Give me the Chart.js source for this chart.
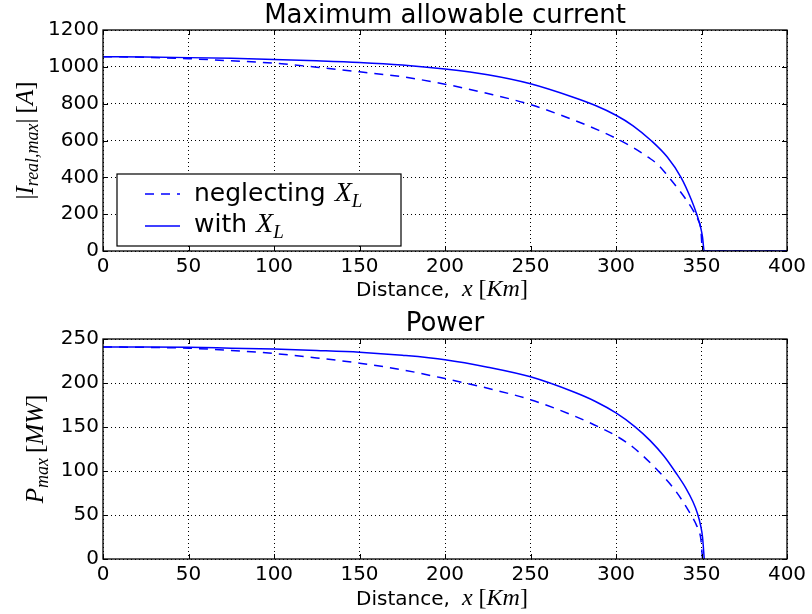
<!DOCTYPE html>
<html>
<head>
<meta charset="utf-8">
<script src="https://cdn.jsdelivr.net/npm/chart.js@4.4.1/dist/chart.umd.min.js"></script>
<style>
html, body { margin: 0; padding: 0; background: #fff; }
.box { position: relative; width: 812px; height: 307px; }
</style>
</head>
<body>
<div class="box"><canvas id="curChart"></canvas></div>
<div class="box"><canvas id="powChart"></canvas></div>
<script>
// ===== DATA =====
// Maximum allowable current |I| [A] vs distance [km]
const curWithKm = [0, 25, 50, 75, 100, 125, 150, 175, 200, 225, 250, 275, 288, 300, 310, 320.5, 330, 338, 344, 347.2, 349.7, 350.6, 351.6, 375, 400];
const curWithA  = [1055, 1053, 1050, 1046, 1040, 1033, 1024, 1010, 988, 957, 908, 835, 790, 737, 680, 600, 510, 400, 280, 200, 120, 75, 0, 0, 0];
const curNegKm  = [0, 25, 50, 75, 100, 125, 150, 175, 200, 225, 250, 275, 290, 300, 310, 319, 325, 330.5, 337, 341.3, 345, 348.2, 349.6, 350.6, 375, 400];
const curNegA   = [1055, 1052, 1044, 1033, 1020, 998, 973, 946, 906, 855, 795, 712, 655, 612, 562, 508, 465, 405, 330, 275, 222, 165, 120, 0, 0, 0];

// Power P_max [MW] vs distance [km]
const powWithKm = [0, 25, 50, 75, 100, 125, 150, 175, 200, 225, 250, 275, 288, 300, 311, 320, 328, 335, 341, 345, 347.6, 349.5, 350.6, 351.6];
const powWithMW = [241, 241, 240.6, 239.6, 238.6, 237, 235, 231.5, 226.5, 218, 207, 190, 179, 166, 150.5, 134.5, 117, 98, 80, 65, 52, 38, 25, 0];
const powNegKm  = [0, 25, 50, 75, 100, 125, 150, 175, 200, 225, 250, 275, 290, 300, 310, 324.7, 335, 343.3, 346.7, 348.2, 349.6, 350.6];
const powNegMW  = [241, 240.5, 239.5, 237, 233.5, 228.5, 222.5, 215, 205, 194, 181, 163, 150, 140, 127, 100, 77, 52, 40, 33, 23, 0];

const seriesNames = ['neglecting', 'with'];

// ===== STYLE =====
const SANS = '"DejaVu Sans", sans-serif';
const SERIF = '"Liberation Serif", "DejaVu Serif", serif';
const BLUE = '#0000ff';
const DASH = [9, 7];
const it = s => 'italic ' + s + 'px ' + SERIF;
const rm = s => s + 'px ' + SERIF;

function pts(xs, ys) { return xs.map((v, i) => ({x: v, y: ys[i]})); }

// a row of text runs: x = left, y = baseline; r.gap adds space after a run
function runsWidth(ctx, runs) {
    let w = 0;
    runs.forEach(r => { ctx.font = r.f; w += ctx.measureText(r.t).width + (r.gap || 0); });
    return w;
}
function drawRuns(ctx, runs, x, y) {
    ctx.textAlign = 'left'; ctx.textBaseline = 'alphabetic'; ctx.fillStyle = '#000';
    runs.forEach(r => {
        ctx.font = r.f;
        ctx.fillText(r.t, x, y + (r.dy || 0));
        x += ctx.measureText(r.t).width + (r.gap || 0);
    });
}

const xTitleRuns = [
    {t: 'Distance,', f: '20px ' + SANS, gap: 12},
    {t: 'x', f: it(24), gap: 6},
    {t: '[', f: rm(24)},
    {t: 'Km', f: it(24)},
    {t: ']', f: rm(24)}
];

function decoPlugin(cfg) {
    return {
        id: 'deco',
        afterDatasetsDraw(chart) {
            const {ctx, chartArea: a, scales: {x, y}} = chart;
            ctx.save();
            ctx.strokeStyle = '#000';
            ctx.lineWidth = 1;
            ctx.setLineDash([]);
            ctx.beginPath();
            x.ticks.forEach(t => {
                const px = Math.round(x.getPixelForValue(t.value)) + 0.5;
                ctx.moveTo(px, a.bottom); ctx.lineTo(px, a.bottom - 5);
                ctx.moveTo(px, a.top); ctx.lineTo(px, a.top + 5);
            });
            y.ticks.forEach(t => {
                const py = Math.round(y.getPixelForValue(t.value)) + 0.5;
                ctx.moveTo(a.left, py); ctx.lineTo(a.left + 5, py);
                ctx.moveTo(a.right, py); ctx.lineTo(a.right - 5, py);
            });
            ctx.stroke();
            ctx.lineWidth = 1.3;
            ctx.strokeRect(a.left, a.top, a.right - a.left, a.bottom - a.top);
            ctx.restore();
        },
        afterDraw(chart) {
            const {ctx, chartArea: a} = chart;
            const cx = (a.left + a.right) / 2;
            ctx.save();
            // title, centred over the plot area
            ctx.font = '26px ' + SANS;
            ctx.fillStyle = '#000';
            ctx.textAlign = 'center';
            ctx.textBaseline = 'alphabetic';
            ctx.fillText(cfg.title, cx, cfg.titleY);
            // x axis title
            const w = runsWidth(ctx, xTitleRuns);
            drawRuns(ctx, xTitleRuns, cx - w / 2 - 3, cfg.xTitleY);
            // y axis title, rotated
            const yw = runsWidth(ctx, cfg.yRuns);
            ctx.save();
            ctx.translate(cfg.yTitleX, (a.top + a.bottom) / 2);
            ctx.rotate(-Math.PI / 2);
            drawRuns(ctx, cfg.yRuns, -yw / 2, 0);
            ctx.restore();
            // legend box
            if (cfg.legend) {
                const L = cfg.legend;
                ctx.fillStyle = '#fff';
                ctx.fillRect(L.x, L.y, L.w, L.h);
                ctx.strokeStyle = '#000';
                ctx.lineWidth = 1.2;
                ctx.strokeRect(L.x, L.y, L.w, L.h);
                ctx.strokeStyle = BLUE;
                ctx.lineWidth = 1.5;
                const rows = [
                    {dash: DASH, name: seriesNames[0], yl: L.y + 20, yb: L.y + 27},
                    {dash: [], name: seriesNames[1], yl: L.y + 52, yb: L.y + 58}
                ];
                rows.forEach(r => {
                    ctx.setLineDash(r.dash);
                    ctx.beginPath();
                    ctx.moveTo(L.x + 28, r.yl);
                    ctx.lineTo(L.x + 63, r.yl);
                    ctx.stroke();
                    drawRuns(ctx, [
                        {t: r.name, f: '25px ' + SANS, gap: 9},
                        {t: 'X', f: it(28)},
                        {t: 'L', f: it(19), dy: 6}
                    ], L.x + 77, r.yb);
                });
                ctx.setLineDash([]);
            }
            ctx.restore();
        }
    };
}

function makeChart(id, padTop, sets, yMax, yStep, xAxisH, deco) {
    return new Chart(document.getElementById(id).getContext('2d'), {
        type: 'line',
        data: {
            datasets: sets.map(s => ({
                data: s.data,
                borderColor: BLUE,
                borderWidth: 1.5,
                borderDash: s.dash,
                pointRadius: 0,
                fill: false,
                cubicInterpolationMode: 'monotone'
            }))
        },
        options: {
            responsive: true,
            maintainAspectRatio: false,
            animation: false,
            layout: {padding: {left: 0, right: 25, top: padTop, bottom: 0}},
            plugins: {
                legend: {display: false},
                tooltip: {enabled: false},
                title: {display: false}
            },
            scales: {
                x: {
                    type: 'linear',
                    min: 0, max: 400,
                    ticks: {stepSize: 50, color: '#000', padding: 4, maxRotation: 0,
                            font: {family: SANS, size: 20}, callback: v => String(v)},
                    grid: {color: '#000', lineWidth: 1, drawTicks: false},
                    border: {display: false, dash: [1, 3]},
                    afterFit: s => { s.height = xAxisH; }
                },
                y: {
                    min: 0, max: yMax,
                    ticks: {stepSize: yStep, color: '#000', padding: 4,
                            font: {family: SANS, size: 20}, callback: v => String(v)},
                    grid: {color: '#000', lineWidth: 1, drawTicks: false},
                    border: {display: false, dash: [1, 3]},
                    afterFit: s => { s.width = 103; }
                }
            }
        },
        plugins: [decoPlugin(deco)]
    });
}

makeChart('curChart', 30,
    [{data: pts(curNegKm, curNegA), dash: DASH}, {data: pts(curWithKm, curWithA), dash: []}],
    1200, 200, 56,
    {
        title: 'Maximum allowable current',
        titleY: 23,
        xTitleY: 296,
        yTitleX: 33,
        yRuns: [
            {t: '|', f: rm(25)},
            {t: 'I', f: it(25)},
            {t: 'real,max', f: it(18), dy: 5},
            {t: '|', f: rm(25), gap: 5},
            {t: '[', f: rm(25)},
            {t: 'A', f: it(25)},
            {t: ']', f: rm(25)}
        ],
        legend: {x: 117, y: 174, w: 284, h: 72}
    });

makeChart('powChart', 32,
    [{data: pts(powNegKm, powNegMW), dash: DASH}, {data: pts(powWithKm, powWithMW), dash: []}],
    250, 50, 55,
    {
        title: 'Power',
        titleY: 24,
        xTitleY: 298,
        yTitleX: 43,
        yRuns: [
            {t: 'P', f: it(25)},
            {t: 'max', f: it(18), dy: 5, gap: 5},
            {t: '[', f: rm(25)},
            {t: 'MW', f: it(25)},
            {t: ']', f: rm(25)}
        ],
        legend: null
    });
</script>
</body>
</html>
